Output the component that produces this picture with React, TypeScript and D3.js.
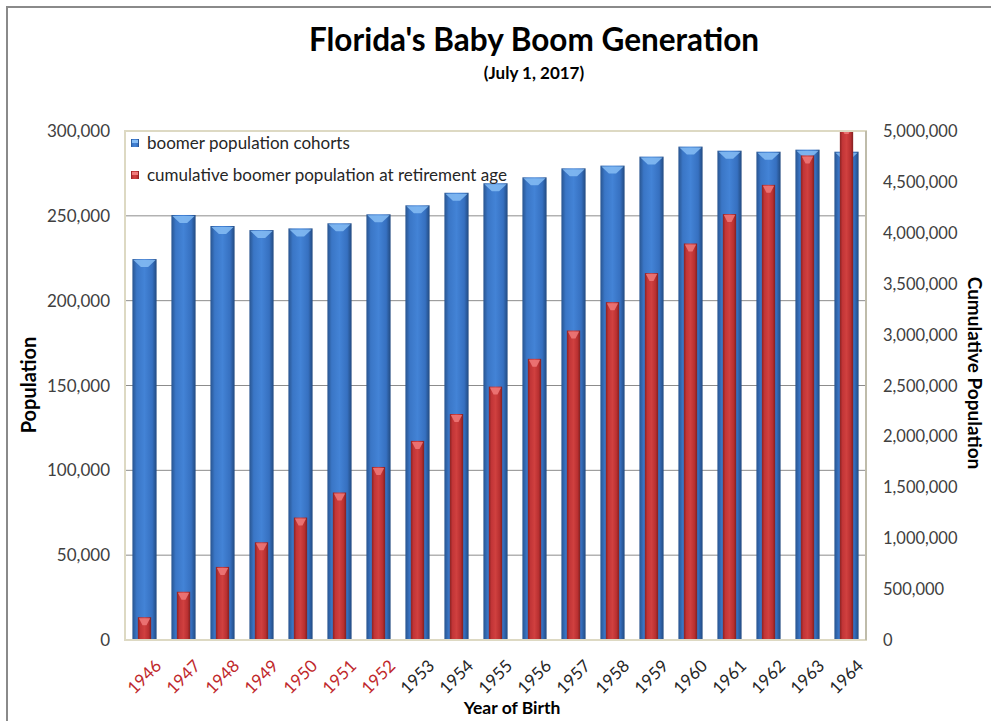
import React from 'react';
import * as d3 from 'd3';

const years = ['1946', '1947', '1948', '1949', '1950', '1951', '1952', '1953', '1954', '1955',
  '1956', '1957', '1958', '1959', '1960', '1961', '1962', '1963', '1964'];
// years already at retirement age are shown in red
const retiredYears = ['1946', '1947', '1948', '1949', '1950', '1951', '1952'];

const cohorts = [224500, 250500, 244000, 241600, 242600, 245600, 250900, 256200, 263600, 269200,
  272700, 278000, 279600, 284900, 290800, 288400, 287800, 289000, 287800];

const cumulative = [224000, 474000, 718000, 960000, 1203000, 1449000, 1700000, 1956000, 2220000,
  2489000, 2762000, 3040000, 3319000, 3604000, 3895000, 4184000, 4471000, 4760000, 5048000];

const leftTicks = [0, 50000, 100000, 150000, 200000, 250000, 300000];
const rightTicks = [0, 500000, 1000000, 1500000, 2000000, 2500000, 3000000, 3500000, 4000000, 4500000, 5000000];

const W = 991;
const H = 721;
const plot = { left: 125, right: 866, top: 131, bottom: 640 };
const font = 'Lato, "Open Sans", sans-serif';
const fmt = d3.format(',');

const App = () => {
  const x = d3.scaleBand<string>()
    .domain(years)
    .range([plot.left, plot.right])
    .paddingInner(0.38)
    .paddingOuter(0.19);

  const yL = d3.scaleLinear().domain([0, 300000]).range([plot.bottom, plot.top]);
  const yR = d3.scaleLinear().domain([0, 5000000]).range([plot.bottom, plot.top]);

  const bw = x.bandwidth();
  const rw = bw * 0.55;

  // bevelled top cap, like the excel 3d-ish style
  const cap = (x0: number, w: number, y: number, fill: string) => {
    const xc = x0 + w / 2;
    const pts = [
      [x0 + 1, y + 1], [x0 + w - 1, y + 1], [xc + w * 0.15, y + 8], [xc - w * 0.15, y + 8],
    ].map(p => p.join(',')).join(' ');
    return <polygon points={pts} fill={fill} opacity={0.85} />;
  };

  return (
    <svg width={W} height={H} style={{ display: 'block', position: 'absolute', left: 0, top: 0 }}>
      <defs>
        <linearGradient id="blueG" x1="0" x2="1" y1="0" y2="0">
          <stop offset="0%" stopColor="#28548f" />
          <stop offset="18%" stopColor="#3a76c6" />
          <stop offset="50%" stopColor="#4383d6" />
          <stop offset="82%" stopColor="#3670c0" />
          <stop offset="100%" stopColor="#224a80" />
        </linearGradient>
        <linearGradient id="redG" x1="0" x2="1" y1="0" y2="0">
          <stop offset="0%" stopColor="#8c2222" />
          <stop offset="20%" stopColor="#c23537" />
          <stop offset="50%" stopColor="#d0403f" />
          <stop offset="80%" stopColor="#b93031" />
          <stop offset="100%" stopColor="#822020" />
        </linearGradient>
        <clipPath id="plotClip">
          <rect x={plot.left} y={plot.top} width={plot.right - plot.left} height={plot.bottom - plot.top} />
        </clipPath>
      </defs>

      <rect x={0} y={0} width={W} height={H} fill="#fff" />
      {/* outer chart border */}
      <rect x={7} y={7} width={W + 20} height={H + 20} fill="none" stroke="#8a8a8a" strokeWidth={2} />

      {/* titles */}
      <text x={534} y={51} textAnchor="middle" fontFamily={font} fontWeight="bold" fontSize={31.5} fill="#000">
        Florida's Baby Boom Generation
      </text>
      <text x={534} y={79} textAnchor="middle" fontFamily={font} fontWeight="bold" fontSize={17} fill="#000">
        (July 1, 2017)
      </text>

      {/* gridlines */}
      {leftTicks.slice(1, -1).map(t => (
        <line key={t} x1={plot.left} x2={plot.right} y1={yL(t)} y2={yL(t)} stroke="#8c8c8c" strokeWidth={1} />
      ))}

      {/* bars */}
      <g clipPath="url(#plotClip)">
        {years.map((yr, i) => {
          const bx = x(yr)!;
          const by = yL(cohorts[i]);
          return (
            <g key={'b' + yr}>
              <rect x={bx} y={by} width={bw} height={plot.bottom - by} fill="url(#blueG)" />
              {cap(bx, bw, by, '#86bdf5')}
            </g>
          );
        })}
        {years.map((yr, i) => {
          const rx = x(yr)! + (bw - rw) / 2;
          const ry = yR(cumulative[i]);
          return (
            <g key={'r' + yr}>
              <rect x={rx} y={ry} width={rw} height={plot.bottom - ry} fill="url(#redG)" />
              {cap(rx, rw, ry, '#f07a7a')}
            </g>
          );
        })}
      </g>

      {/* plot area border */}
      <rect x={plot.left} y={plot.top} width={plot.right - plot.left} height={plot.bottom - plot.top}
        fill="none" stroke="#ddd9c3" strokeWidth={2} />
      <line x1={plot.right} x2={plot.right} y1={plot.top} y2={plot.bottom} stroke="#b5b2a2" strokeWidth={1.5} />

      {/* legend */}
      <g fontFamily={font} fontSize={17} fill="#262626">
        <rect x={131} y={139} width={8} height={8} fill="url(#blueG)" />
        <rect x={132} y={140} width={6} height={3} fill="#86bdf5" />
        <text x={147} y={149}>boomer population cohorts</text>
        <rect x={131} y={171} width={8} height={8} fill="url(#redG)" />
        <rect x={132} y={172} width={6} height={3} fill="#f07a7a" />
        <text x={147} y={181}>cumulative boomer population at retirement age</text>
      </g>

      {/* left axis */}
      <g fontFamily={font} fontSize={17} fill="#404040">
        {leftTicks.map(t => (
          <text key={t} x={110} y={yL(t) + 6} textAnchor="end">{fmt(t)}</text>
        ))}
      </g>
      {/* right axis */}
      <g fontFamily={font} fontSize={16.5} fill="#404040">
        {rightTicks.map(t => (
          <text key={t} x={883} y={yR(t) + 6} textAnchor="start">{fmt(t)}</text>
        ))}
      </g>

      {/* x labels */}
      <g fontFamily={font} fontSize={17}>
        {years.map(yr => {
          const cx = x(yr)! + bw / 2 + 18;
          const cy = 667;
          return (
            <text key={yr} transform={`translate(${cx},${cy}) rotate(-45)`} textAnchor="end"
              fill={retiredYears.includes(yr) ? '#c0282b' : '#262626'}>
              {yr}
            </text>
          );
        })}
      </g>

      {/* axis titles */}
      <text x={512} y={714} textAnchor="middle" fontFamily={font} fontWeight="bold" fontSize={17.5} fill="#000">
        Year of Birth
      </text>
      <text transform={`translate(36,385) rotate(-90)`} textAnchor="middle" fontFamily={font}
        fontWeight="bold" fontSize={20} fill="#000">
        Population
      </text>
      <text transform={`translate(968,373) rotate(90)`} textAnchor="middle" fontFamily={font}
        fontWeight="bold" fontSize={19} fill="#000">
        Cumulative Population
      </text>
    </svg>
  );
};

export default App;
